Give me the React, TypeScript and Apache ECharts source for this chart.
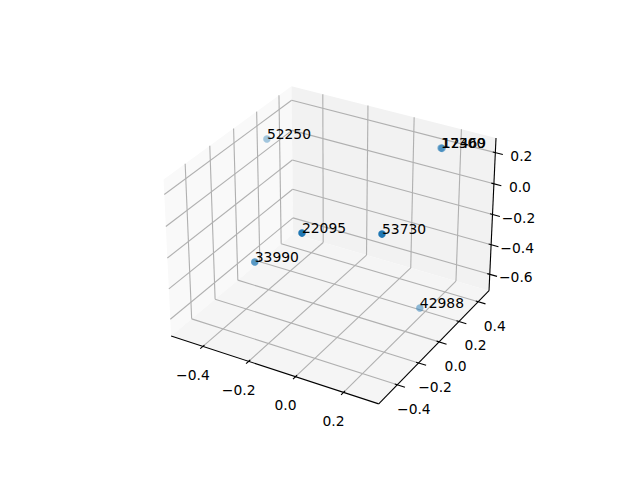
import React, { useEffect, useRef } from "react";
import * as echarts from "echarts";

const xTicks = [-0.4, -0.2, 0.0, 0.2];
const yTicks = [-0.4, -0.2, 0.0, 0.2, 0.4];
const zTicks = [-0.6, -0.4, -0.2, 0.0, 0.2];
const xLim = [-0.5415, 0.3435];
const yLim = [-0.57, 0.515];
const zLim = [-0.712, 0.292];

const pointNames = ["52250", "17300", "12469", "22095", "53730", "33990", "42988"];
const pointX = [-0.527, 0.1188, 0.1228, -0.0535, 0.1935, -0.2915, 0.1785];
const pointY = [0.257, 0.5122, 0.5122, -0.3945, -0.2219, -0.3247, 0.1941];
const pointZ = [0.09, 0.1419, 0.1419, 0.063, 0.058, -0.269, -0.695];

const FONT = '13.89px "DejaVu Sans"';
const box = [1.1905, 1.1905, 0.8929];
const U = [0.866025, 0.5, 0];
const V = [-0.25, 0.433013, 0.866025];
const W = [0.433013, -0.75, 0.5];
const dot = (a: number[], b: number[]) => a[0] * b[0] + a[1] * b[1] + a[2] * b[2];

function rel(x: number, y: number, z: number) {
  return [
    ((x - xLim[0]) / (xLim[1] - xLim[0]) - 0.5) * box[0],
    ((y - yLim[0]) / (yLim[1] - yLim[0]) - 0.5) * box[1],
    ((z - zLim[0]) / (zLim[1] - zLim[0]) - 0.5) * box[2],
  ];
}
function project(x: number, y: number, z: number) {
  const r = rel(x, y, z);
  const d = 10 - dot(r, W);
  return [333 + (1997.8 * dot(r, U)) / d, 237.4 - (1997.8 * dot(r, V)) / d];
}
const depth = (x: number, y: number, z: number) => dot(rel(x, y, z), W);

const [x0, x1] = xLim;
const [y0, y1] = yLim;
const [z0, z1] = zLim;

const panes = [
  { c: [[x0, y0, z0], [x0, y1, z0], [x0, y1, z1], [x0, y0, z1]], fill: "#f9f9f9" },
  { c: [[x0, y1, z0], [x1, y1, z0], [x1, y1, z1], [x0, y1, z1]], fill: "#f2f2f2" },
  { c: [[x0, y0, z0], [x1, y0, z0], [x1, y1, z0], [x0, y1, z0]], fill: "#f5f5f5" },
];

function seg(a: number[], b: number[]) {
  return [...project(a[0], a[1], a[2]), ...project(b[0], b[1], b[2])];
}
const gridSegs: number[][] = [];
xTicks.forEach((t) => {
  gridSegs.push(seg([t, y0, z0], [t, y1, z0]), seg([t, y1, z0], [t, y1, z1]));
});
yTicks.forEach((t) => {
  gridSegs.push(seg([x1, t, z0], [x0, t, z0]), seg([x0, t, z0], [x0, t, z1]));
});
zTicks.forEach((t) => {
  gridSegs.push(seg([x0, y0, t], [x0, y1, t]), seg([x0, y1, t], [x1, y1, t]));
});

const axisSegs: number[][] = [
  seg([x0, y0, z0], [x1, y0, z0]),
  seg([x1, y0, z0], [x1, y1, z0]),
  seg([x1, y1, z0], [x1, y1, z1]),
];
const dxT = x1 - x0;
const dyT = y1 - y0;
xTicks.forEach((t) => axisSegs.push(seg([t, y0 + 0.012 * dyT, z0], [t, y0 - 0.02 * dyT, z0])));
yTicks.forEach((t) => axisSegs.push(seg([x1 - 0.012 * dxT, t, z0], [x1 + 0.035 * dxT, t, z0])));
zTicks.forEach((t) => axisSegs.push(seg([x1 - 0.012 * dxT, y1, t], [x1 + 0.035 * dxT, y1, t])));

const fmt = (t: number) => (t < 0 ? "\u2212" : "") + Math.abs(t).toFixed(1);
const tickLabels: { p: number[]; s: string }[] = [];
xTicks.forEach((t) => {
  const p = project(t, y0, z0);
  tickLabels.push({ p: [p[0] - 10, p[1] + 28.5], s: fmt(t) });
});
yTicks.forEach((t) => {
  const p = project(x1, t, z0);
  tickLabels.push({ p: [p[0] + 16.5, p[1] + 24], s: fmt(t) });
});
zTicks.forEach((t) => {
  const p = project(x1, y1, t);
  tickLabels.push({ p: [p[0] + 26, p[1] + 3], s: fmt(t) });
});

const depths = pointX.map((x, i) => depth(x, pointY[i], pointZ[i]));
const dMin = Math.min(...depths);
const dMax = Math.max(...depths);
const alphaOf = (d: number) => 0.4 + (0.6 * (d - dMin)) / (dMax - dMin);

const pointData = pointX.map((x, i) => ({
  name: pointNames[i],
  value: project(x, pointY[i], pointZ[i]),
  itemStyle: { color: `rgba(31,119,180,${alphaOf(depths[i]).toFixed(3)})`, opacity: 1 },
}));

function segSeries(data: number[][], stroke: string) {
  return {
    type: "custom",
    silent: true,
    clip: false,
    coordinateSystem: "cartesian2d",
    data,
    encode: { x: [0, 2], y: [1, 3] },
    renderItem: (_p: any, api: any) => {
      const a = api.coord([api.value(0), api.value(1)]);
      const b = api.coord([api.value(2), api.value(3)]);
      return {
        type: "line",
        shape: { x1: a[0], y1: a[1], x2: b[0], y2: b[1] },
        style: { stroke, lineWidth: 1.11, fill: "none" },
      };
    },
  };
}

export default function App() {
  const ref = useRef<HTMLDivElement>(null);
  useEffect(() => {
    const chart = echarts.init(ref.current!, null, { renderer: "svg" });
    chart.setOption({
      animation: false,
      backgroundColor: "#ffffff",
      grid: { left: 0, top: 0, right: 0, bottom: 0 },
      xAxis: { type: "value", min: 0, max: 640, show: false },
      yAxis: { type: "value", min: 0, max: 480, inverse: true, show: false },
      series: [
        {
          type: "custom",
          silent: true,
          clip: false,
          coordinateSystem: "cartesian2d",
          data: panes.map((_, i) => [i, i]),
          renderItem: (p: any, api: any) => {
            const pane = panes[p.dataIndex];
            return {
              type: "polygon",
              shape: {
                points: pane.c.map((c) => api.coord(project(c[0], c[1], c[2]))),
              },
              style: { fill: pane.fill, stroke: "none" },
            };
          },
        },
        segSeries(gridSegs, "#b0b0b0"),
        segSeries(axisSegs, "#000000"),
        {
          type: "custom",
          silent: true,
          clip: false,
          coordinateSystem: "cartesian2d",
          data: tickLabels.map((t) => t.p),
          renderItem: (p: any, api: any) => {
            const c = api.coord([api.value(0), api.value(1)]);
            return {
              type: "text",
              x: c[0],
              y: c[1],
              style: {
                text: tickLabels[p.dataIndex].s,
                font: FONT,
                fill: "#000000",
                align: "center",
                verticalAlign: "middle",
              },
            };
          },
        },
        {
          type: "scatter",
          silent: true,
          clip: false,
          symbol: "circle",
          symbolSize: 7.5,
          itemStyle: { opacity: 1 },
          data: pointData,
          label: {
            show: true,
            formatter: "{b}",
            position: "inside",
            align: "left",
            verticalAlign: "bottom",
            offset: [0, 2],
            color: "#000000",
            opacity: 1,
            textBorderWidth: 0,
            textBorderColor: "transparent",
            fontFamily: "DejaVu Sans",
            fontSize: 13.89,
          },
        },
      ],
    });
    return () => chart.dispose();
  }, []);
  return (
    <div
      ref={ref}
      style={{ position: "fixed", left: 0, top: 0, width: 640, height: 480 }}
    />
  );
}
